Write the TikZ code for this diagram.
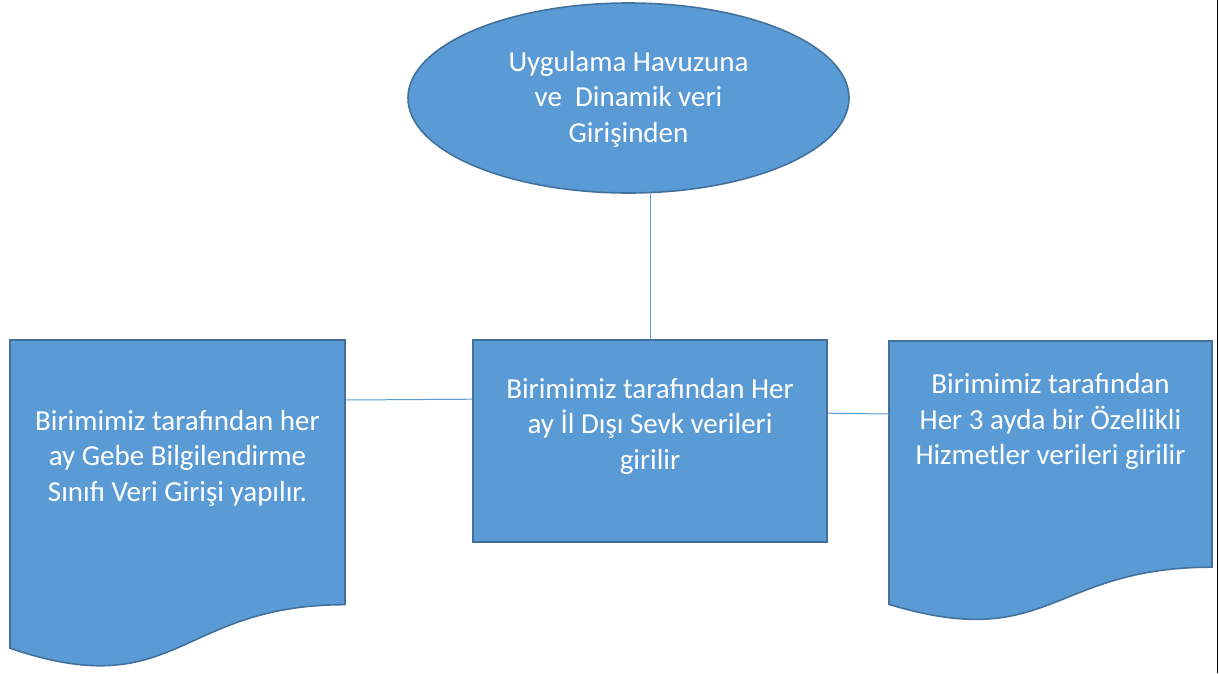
\documentclass[tikz,border=0pt]{standalone}
\usepackage{fontspec}
\setmainfont{Carlito}
\usetikzlibrary{shapes.geometric,calc}

\definecolor{shapefill}{HTML}{5B9BD5}
\definecolor{shapeline}{HTML}{41719C}
\definecolor{linkline}{HTML}{5B9BD5}

\tikzset{
  boxshape/.style={draw=shapeline, fill=shapefill, line width=1.6pt, inner sep=0pt},
  docframe/.style={inner sep=0pt, outer sep=0pt},
  lbl/.style={text=white, align=center, inner sep=0pt,
              font=\fontsize{29}{35.5}\selectfont},
  link/.style={draw=linkline, line width=1pt},
}

% flowchart "document" outline filling the extent of an invisible node
\newcommand\docshape[1]{%
  \path[boxshape] (#1.north west) -- (#1.north east)
    -- ($(#1.north east)!0.802!(#1.south east)$)
    .. controls ($(#1.north)!0.802!(#1.south)$) and ($(#1.north)!1.107!(#1.south)$)
    .. ($(#1.north west)!0.934!(#1.south west)$) -- cycle;}

\begin{document}
\begin{tikzpicture}[x=1pt,y=-1pt]
  \useasboundingbox (0,0) rectangle (1219,673);

  % shapes
  \node[ellipse, boxshape, minimum width=441pt, minimum height=190pt] (top) at (628.5,98) {};
  \node[rectangle, boxshape, minimum width=354pt, minimum height=202pt] (mid) at (650,441) {};
  \node[docframe, minimum width=335pt, minimum height=330pt] (left) at (177.5,505) {};
  \node[docframe, minimum width=323pt, minimum height=282pt] (right) at (1050.5,482) {};
  \docshape{left}
  \docshape{right}

  % connectors
  \draw[link] (mid.north) -- (mid.north |- top.south);
  \draw[link] ($(left.north east)+(0,60)$) -- ($(mid.north west)+(0,60)$);
  \draw[link] ($(mid.north east)+(0,74)$) -- ($(right.north west)+(0,73)$);

  % texts
  \node[lbl] (toptext) at ($(top.center)+(0,1)$)
    {Uygulama Havuzuna\\ve~ Dinamik veri\\Girişinden};
  \node[lbl] (midtext) at ($(mid.center)+(0,-15)$)
    {Birimimiz tarafından Her\\ay İl Dışı Sevk verileri\\girilir};
  \node[lbl] (lefttext) at ($(left.center)+(0,-47)$)
    {Birimimiz tarafından her\\ay Gebe Bilgilendirme\\Sınıfı Veri Girişi yapılır.};
  \node[lbl] (righttext) at ($(right.center)+(0,-60.5)$)
    {Birimimiz tarafından\\Her 3 ayda bir Özellikli\\Hizmetler verileri girilir};

  % page edge rule
  \draw[black, line width=1.2pt] (1217.5,0) -- (1217.5,673);
\end{tikzpicture}
\end{document}
